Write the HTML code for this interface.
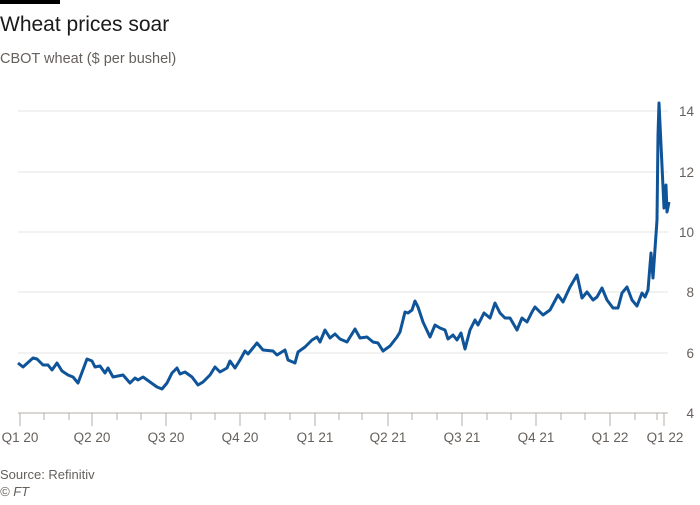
<!DOCTYPE html>
<html><head><meta charset="utf-8"><style>
body{margin:0;background:#fff;width:700px;height:500px;overflow:hidden;font-family:"Liberation Sans",sans-serif}
</style></head><body>
<svg width="700" height="500" xmlns="http://www.w3.org/2000/svg">
<rect x="0" y="0" width="60" height="4" fill="#000"/>
<text x="0" y="31" font-size="21" fill="#1a1a1a" font-family="Liberation Sans, sans-serif">Wheat prices soar</text>
<text x="0" y="63" font-size="14.5" fill="#66605c" font-family="Liberation Sans, sans-serif">CBOT wheat ($ per bushel)</text>
<g stroke="#e6e4e2" stroke-width="1">
<line x1="18" y1="111" x2="668" y2="111"/>
<line x1="18" y1="172" x2="668" y2="172"/>
<line x1="18" y1="232" x2="668" y2="232"/>
<line x1="18" y1="292" x2="668" y2="292"/>
<line x1="18" y1="353" x2="668" y2="353"/>
</g>
<line x1="18" y1="413" x2="668" y2="413" stroke="#b3ada8" stroke-width="1"/>
<g stroke="#b3ada8" stroke-width="1">
<line x1="20" y1="413" x2="20" y2="426"/><line x1="44" y1="413" x2="44" y2="420"/><line x1="69" y1="413" x2="69" y2="420"/>
<line x1="92" y1="413" x2="92" y2="426"/><line x1="117" y1="413" x2="117" y2="420"/><line x1="141" y1="413" x2="141" y2="420"/>
<line x1="166" y1="413" x2="166" y2="426"/><line x1="191" y1="413" x2="191" y2="420"/><line x1="215" y1="413" x2="215" y2="420"/>
<line x1="240" y1="413" x2="240" y2="426"/><line x1="265" y1="413" x2="265" y2="420"/><line x1="290" y1="413" x2="290" y2="420"/>
<line x1="315" y1="413" x2="315" y2="426"/><line x1="339" y1="413" x2="339" y2="420"/><line x1="362" y1="413" x2="362" y2="420"/>
<line x1="388" y1="413" x2="388" y2="426"/><line x1="412" y1="413" x2="412" y2="420"/><line x1="437" y1="413" x2="437" y2="420"/>
<line x1="462" y1="413" x2="462" y2="426"/><line x1="487" y1="413" x2="487" y2="420"/><line x1="511" y1="413" x2="511" y2="420"/>
<line x1="536" y1="413" x2="536" y2="426"/><line x1="561" y1="413" x2="561" y2="420"/><line x1="585" y1="413" x2="585" y2="420"/>
<line x1="610" y1="413" x2="610" y2="426"/><line x1="635" y1="413" x2="635" y2="420"/><line x1="657" y1="413" x2="657" y2="420"/>
<line x1="664" y1="413" x2="664" y2="426"/>
</g>
<g font-size="13.5" fill="#66605c" font-family="Liberation Sans, sans-serif" text-anchor="end">
<text x="694" y="116">14</text><text x="694" y="177">12</text><text x="694" y="237">10</text>
<text x="694" y="297">8</text><text x="694" y="358">6</text><text x="694" y="418">4</text>
</g>
<g font-size="13.5" fill="#66605c" font-family="Liberation Sans, sans-serif" text-anchor="middle">
<text x="20" y="442">Q1 20</text><text x="92" y="442">Q2 20</text><text x="166" y="442">Q3 20</text>
<text x="240" y="442">Q4 20</text><text x="315" y="442">Q1 21</text><text x="388" y="442">Q2 21</text>
<text x="462" y="442">Q3 21</text><text x="536" y="442">Q4 21</text><text x="610" y="442">Q1 22</text>
<text x="665" y="442">Q1 22</text>
</g>
<polyline fill="none" stroke="#0f5499" stroke-width="3" stroke-linejoin="round" points="
18,363 23,367 33,358 37,359 43,365 48,365 52,370 57,363 62,371 68,375 73,377 78,383 87,359 92,361 95,367 100,366 105,373 108,368 113,377 123,375 130,383 135,378 138,380 143,377 150,382 157,387 162,389 167,383 172,373 177,368 180,374 185,372 192,377 198,385 203,382 210,375 215,367 220,372 227,368 230,361 235,368 240,360 245,351 248,354 257,343 263,350 273,351 277,355 285,350 288,360 295,363 298,352 305,347 312,340 317,337 320,342 325,330 330,338 335,334 340,339 347,342 355,329 360,338 367,337 373,342 378,343 383,351 390,346 397,337 400,332 405,312 408,313 412,310 415,301 418,307 423,322 430,337 435,325 440,328 445,330 448,339 453,335 457,340 461,333 465,349 470,330 475,320 478,325 484,313 490,318 495,303 500,313 505,318 510,318 517,330 522,318 527,322 532,312 535,307 543,315 550,310 558,295 563,302 570,287 577,275 582,298 587,292 593,300 597,297 602,288 607,300 613,308 618,308 622,293 627,287 632,300 637,306 642,293 645,297 648,290 651,253 653,278 657,220 658,135 659,103 664,208 666,185 667,212 669,202"/>
<text x="0" y="479" font-size="13" fill="#66605c" font-family="Liberation Sans, sans-serif">Source: Refinitiv</text>
<text x="0" y="496" font-size="13" fill="#66605c" font-style="italic" font-family="Liberation Sans, sans-serif">© FT</text>
</svg>
</body></html>
